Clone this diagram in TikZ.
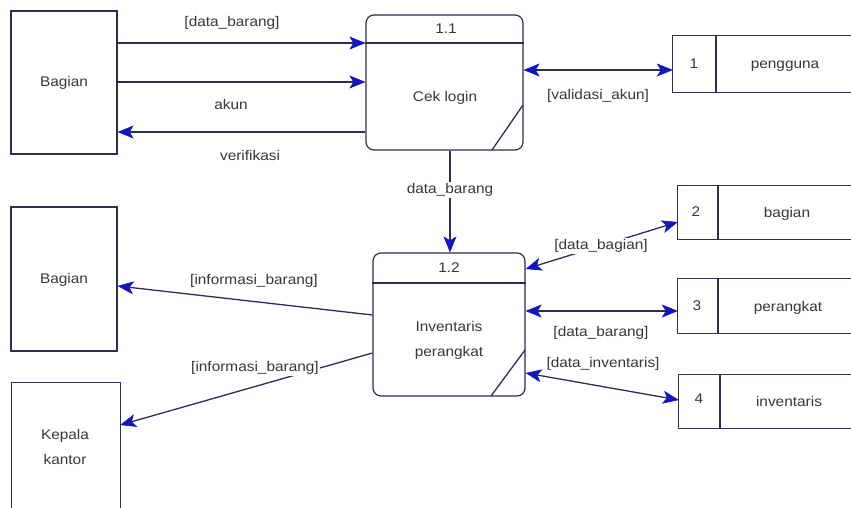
\documentclass[tikz,border=0pt]{standalone}
\usepackage{fontspec}
\setmainfont{Liberation Sans}[FakeStretch=1.1]
\usetikzlibrary{arrows.meta}
\definecolor{ln}{RGB}{45,45,85}
\definecolor{ah}{RGB}{20,20,195}
\definecolor{tx}{RGB}{55,55,55}
\tikzset{
  ent/.style={draw=ln, line width=1.2pt, inner sep=0pt},
  openbox/.style={draw=none, inner sep=0pt},
  proc/.style={draw=ln, line width=1.2pt, rounded corners=8pt, inner sep=0pt},
  lbl/.style={text=tx, font=\fontsize{14}{25}\selectfont, inner sep=1pt, align=center},
  onl/.style={lbl, fill=white},
  edge/.style={draw=ln, line width=1.3pt},
  tipb/.tip={Stealth[length=16pt,width=13pt,inset=4pt,color=ah,line width=0.6pt]},
  flow/.style={edge, -tipb},
  biflow/.style={edge, tipb-tipb},
}
\begin{document}
\begin{tikzpicture}[x=1pt,y=-1pt]
\fill[white] (0,0) rectangle (851,508);
\useasboundingbox (0,0) rectangle (851,508);

% external entities
\node[ent, minimum width=106pt, minimum height=143pt] (b1) at (64,82.5) {};
\node[lbl] (b1t) at (64,83) {Bagian};
\node[ent, minimum width=106pt, minimum height=144pt] (b2) at (64,279) {};
\node[lbl] (b2t) at (64,280) {Bagian};
\node[openbox, minimum width=108pt, minimum height=125pt] (k) at (66,445.5) {};
\draw[edge] (k.south west) -- (k.north west) -- (k.north east) -- (k.south east);
\node[lbl] (kt) at (65,447) {Kepala\\kantor};

% process 1.1
\node[proc, minimum width=157pt, minimum height=135pt] (p11) at (444.5,82.5) {};
\draw[edge] (p11.west |- 0,43) -- (p11.east |- 0,43);
\draw[edge] (492,150) -- (523,105);
\node[lbl] (p11n) at (446,29) {1.1};
\node[lbl] (p11t) at (445,98) {Cek login};

% process 1.2
\node[proc, minimum width=152pt, minimum height=143pt] (p12) at (449,324.5) {};
\draw[edge] (p12.west |- 0,283) -- (p12.east |- 0,283);
\draw[edge] (491,396) -- (525,350);
\node[lbl] (p12n) at (449,268) {1.2};
\node[lbl] (p12t) at (449,340) {Inventaris\\perangkat};

% data stores
\node[openbox, minimum width=178pt, minimum height=56pt] (s1) at (762,64) {};
\draw[edge] (s1.north east) -- (s1.north west) -- (s1.south west) -- (s1.south east);
\draw[edge] (716,36) -- (716,92);
\node[lbl] (s1n) at (694,64) {1};
\node[lbl] (s1t) at (785,66) {pengguna};

\node[openbox, minimum width=173pt, minimum height=53pt] (s2) at (764.5,212.5) {};
\draw[edge] (s2.north east) -- (s2.north west) -- (s2.south west) -- (s2.south east);
\draw[edge] (718,186) -- (718,239);
\node[lbl] (s2n) at (696,212) {2};
\node[lbl] (s2t) at (787,214) {bagian};

\node[openbox, minimum width=173pt, minimum height=54pt] (s3) at (764.5,306) {};
\draw[edge] (s3.north east) -- (s3.north west) -- (s3.south west) -- (s3.south east);
\draw[edge] (718,279) -- (718,333);
\node[lbl] (s3n) at (697,306) {3};
\node[lbl] (s3t) at (788,308) {perangkat};

\node[openbox, minimum width=172pt, minimum height=53pt] (s4) at (765,401.5) {};
\draw[edge] (s4.north east) -- (s4.north west) -- (s4.south west) -- (s4.south east);
\draw[edge] (720,375) -- (720,428);
\node[lbl] (s4n) at (699,399) {4};
\node[lbl] (s4t) at (789,401) {inventaris};

% flows
\draw[flow] (b1.east |- 0,43) -- (p11.west |- 0,43);
\node[lbl] (f1) at (232,23) {[data\_barang]};
\draw[flow] (b1.east |- 0,82) -- (p11.west |- 0,82);
\node[lbl] (f2) at (231,104) {akun};
\draw[flow] (p11.west |- 0,132) -- (b1.east |- 0,132);
\node[lbl] (f3) at (250,155) {verifikasi};
\draw[biflow] (p11.east |- 0,70) -- (s1.west |- 0,70);
\node[lbl] (f4) at (598,96) {[validasi\_akun]};

\draw[flow] (p11.south -| 450,0) -- (p12.north -| 450,0);
\node[onl] (f5) at (450,190) {data\_barang};

\draw[flow] (p12.west |- 0,315) -- (b2.east |- 0,286);
\node[lbl] (f6) at (254,281) {[informasi\_barang]};
\draw[flow] (p12.west |- 0,353) -- (k.east |- 0,425);
\node[onl] (f7) at (255,368) {[informasi\_barang]};

\draw[biflow] (s2.west |- 0,222) -- (p12.east |- 0,269);
\node[onl] (f8) at (601,246) {[data\_bagian]};
\draw[biflow] (p12.east |- 0,311) -- (s3.west |- 0,311);
\node[lbl] (f9) at (601,333) {[data\_barang]};
\draw[biflow] (p12.east |- 0,373) -- (s4.west |- 0,400);
\node[onl] (f10) at (603,364) {[data\_inventaris]};
\end{tikzpicture}
\end{document}
